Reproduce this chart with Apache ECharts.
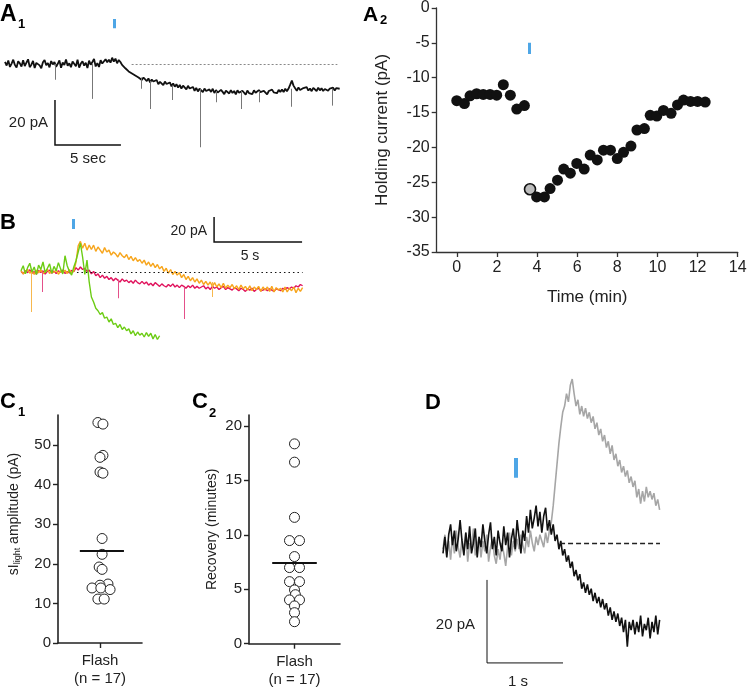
<!DOCTYPE html>
<html><head><meta charset="utf-8">
<script src="https://cdn.jsdelivr.net/npm/echarts@6/dist/echarts.min.js"></script>
<style>html,body{margin:0;padding:0;background:#fff}#c{width:747px;height:690px}</style>
</head><body><div id="c"></div>
<script>
// ================= DATA =================
// ---- A1: holding current trace (pA, relative to baseline), sampled every 0.125 s ----
const a1SampleSec = 0.125;
const a1Trace = [
  0.9,-0.7,1.6,-1.3,0.2,1.9,-0.4,-1.6,
  1.2,0.3,-1.1,1.7,-0.9,0.6,2.1,-1.4,
  -0.3,1.4,-1.8,0.5,1.1,-0.6,-1.9,0.8,
  1.8,-0.5,0.4,-1.5,1.3,-0.2,0.9,-1.2,
  0.1,1.6,-1.7,0.7,-0.4,2.0,-0.8,0.3,
  -1.4,1.1,0.5,-1.0,1.9,-1.6,0.2,1.2,
  -0.7,0.6,-1.8,1.5,-0.3,0.9,2.3,-1.1,
  0.4,-1.3,1.7,0.2,-0.6,2.1,0.8,1.9,
  0.6,2.8,1.1,2.4,0.3,1.8,0.9,-0.4,
  -0.6,-1.9,-1.2,-3.3,-2.6,-4.2,-3.4,-5.1,
  -4.6,-6.0,-5.2,-7.1,-6.0,-6.8,-7.6,-6.4,
  -8.2,-6.9,-7.8,-8.6,-7.1,-9.0,-7.9,-8.4,
  -9.4,-7.8,-8.9,-9.7,-8.2,-9.9,-8.6,-10.1,
  -9.0,-10.5,-9.3,-10.9,-9.6,-10.2,-11.3,-9.7,
  -10.9,-11.6,-10.2,-11.9,-10.6,-12.2,-11.0,-11.6,
  -12.5,-10.9,-12.0,-12.8,-11.3,-12.4,-11.0,-12.9,
  -11.6,-12.7,-13.2,-11.5,-12.4,-13.4,-11.8,-12.6,
  -13.1,-11.6,-12.9,-12.0,-13.5,-11.7,-12.8,-13.3,
  -11.9,-12.6,-13.6,-11.8,-12.9,-12.1,-13.4,-11.7,
  -12.8,-13.3,-11.6,-12.5,-13.1,-11.9,-12.6,-13.5,
  -12.0,-12.8,-11.4,-12.6,-11.8,-13.0,-11.5,-12.4,
  -11.3,-12.5,-11.0,-12.1,-10.9,-9.2,-7.4,-9.6,
  -10.8,-11.9,-10.4,-11.6,-12.2,-10.7,-11.5,-10.3,
  -11.8,-10.9,-12.1,-10.6,-11.4,-12.0,-10.5,-11.7,
  -10.8,-12.0,-11.1,-10.4,-11.9,-10.9,-11.6,-10.5,
  -11.8,-10.7,-11.4,-11.0
];
const a1SpikeTime = [3.8, 6.6, 10.3, 11.0, 12.7, 14.8, 16.0, 17.9, 19.3, 21.7, 24.8];
const a1SpikeBase = [0, 0, -6, -7.5, -9.5, -11, -12, -12, -12, -11, -11];
const a1SpikeTip  = [-7, -15.5, -11, -20, -16, -37, -17, -20, -17, -19, -18.5];
const a1FlashTime = 8.28, a1FlashPA = [15.9, 20];
const a1BaselineSpan = [9.6, 25.2];
const a1ScaleT = [3.79, 8.79], a1ScalePA = [-16, -36];

// ---- A2: holding current over time ----
const a2Time = [0,0.38,0.66,0.99,1.32,1.66,1.99,2.32,2.67,2.99,3.37,3.65,3.98,4.37,4.65,5.02,5.33,5.66,5.98,6.35,
  6.65,7.0,7.31,7.66,8.0,8.31,8.68,8.98,9.35,9.64,9.97,10.3,10.68,11.0,11.3,11.65,12.0,12.38];
const a2Current = [-13.3,-13.7,-12.6,-12.3,-12.4,-12.4,-12.5,-11.0,-12.5,-14.5,-14.0,-26.0,-27.1,-27.1,-25.9,-24.7,
  -23.1,-23.7,-22.3,-23.1,-21.1,-21.8,-20.4,-20.4,-21.6,-20.7,-19.8,-17.5,-17.3,-15.4,-15.5,-14.7,-15.1,-13.9,-13.2,-13.4,-13.4,-13.5];
const a2HighlightIndex = 11;
const a2XTicks = [0,2,4,6,8,10,12,14];
const a2FlashTime = 3.6, a2FlashPA = [-5.0, -6.6];

// ---- B: three example traces (pA), sampled every 0.125 s ----
const bSampleSec = 0.125;
const bOrange = [
  1.2,-1.6,0.4,2.1,-0.9,0.8,-2.0,1.5,
  -0.6,1.8,-1.3,0.3,2.2,-1.1,0.6,-0.4,
  1.7,-1.8,0.9,-0.5,1.4,-1.2,2.0,-0.8,
  0.6,8,21,24.5,19,23,17.5,21.5,
  18,21.5,16.5,20,17.5,15,19.5,16,
  17.5,13.5,16,14.5,12,15.5,13,11.5,
  14,10,12.5,9,11.5,8.5,10,7,
  9.5,5.5,8,4.5,7,3.5,6,2.5,
  4.5,0.5,3,-1,2,-2,0.5,-2.5,
  -0.5,-4.5,-2,-6,-3.5,-7,-4.5,-8,
  -5.5,-9,-6.5,-10,-7.5,-10.5,-8,-11.5,
  -8.5,-12,-9.5,-12.5,-9,-13,-10.5,-12.5,
  -10,-13.5,-11,-14,-10.5,-13.5,-11.5,-14.5,
  -11,-15,-12,-14,-11.5,-15.5,-12,-14.5,
  -12,-15.5,-11.5,-16,-12.5,-14.5,-13,-16,
  -12,-16,-13,-15,-12,-16.5,-13,-15.5,
  -12.5
];
const bRed = [
  0.6,-1.4,1.1,-0.5,1.8,-1.0,0.3,-1.7,
  1.2,-0.4,0.9,-1.6,0.5,1.5,-0.9,0.7,
  -1.3,1.0,-0.2,1.6,-1.2,0.4,-0.8,1.3,
  0.2,3.5,1.5,4,2,3,0.5,1.5,
  -1.5,0.5,-3,-1.5,-4.5,-2.5,-5,-3.5,
  -6,-4.5,-7,-5,-6.5,-8,-5.5,-7.5,
  -6.5,-8.5,-7,-9,-6.5,-8.5,-9.5,-7.5,
  -9.5,-8,-10.5,-9,-11,-8.5,-10,-11.5,
  -9.5,-11,-12,-10,-11.5,-9.5,-12,-10.5,
  -12.5,-10.5,-11.5,-13,-11,-12.5,-10.5,-13,
  -11.5,-13,-12,-11,-13.5,-12,-14,-11.5,
  -13,-12,-14,-12.5,-11.5,-14,-12.5,-13.5,
  -14.5,-12.5,-13.5,-15,-13,-14,-15.5,-13.5,
  -14.5,-13,-15.5,-14,-13,-15,-14.5,-13.5,
  -15,-13.5,-14.5,-15.5,-13.5,-14,-15,-13,
  -14,-12.5,-13.5,-12,-13,-11,-12,-10,
  -11
];
const bGreen = [
  1,5,-1.5,3.5,7,0,4,-2,
  5.5,2,8,-0.5,3,6.5,-1,4.5,
  1,7.5,2.5,-1.5,13,5,0.5,-2.5,
  4,9,16,23,12,-2,9.5,-8,
  -20,-24,-29,-31,-34,-32.5,-37,-36,
  -40,-37.5,-42,-41,-44.5,-42,-46,-44,
  -47,-45.5,-49.5,-47,-51,-48,-50.5,-49,
  -52,-48.5,-51.5,-49,-53.5,-50,-54,-51
];
const bSpikeTime  = [0.6, 1.2, 5.5, 9.3, 10.85];
const bSpikeBase  = [0, 0, -6, -12, -8];
const bSpikeTip   = [-32, -16, -21, -37.6, -20];
const bSpikeColor = ['#f7b84e', '#e4508a', '#e4508a', '#e4508a', '#f7b84e'];
const bFlashTime = 2.95, bFlashPA = [34.4, 42.4];
const bBaselineSpan = [3.18, 16];
const bScaleT = [10.97, 15.97], bScalePA = [44, 24];

// ---- C1 / C2: individual cells ----
const c1Values = [55.7,55.3,47.4,46.9,43.2,42.9,26.4,22.4,19.2,18.6,14.9,14.6,13.9,13.9,13.5,11.1,11.1];
const c1Jitter = [-0.05,0.07,0.07,0,0,0.07,0.05,0.05,-0.02,0.05,0.19,0,-0.19,0.02,0.24,-0.05,0.1];
const c1Mean = 23.3, c1MeanSpan = [-0.48, 0.57];
const c1Ticks = [0,10,20,30,40,50];
const c2Values = [18.35,16.67,11.6,9.47,9.47,8.0,6.99,6.99,5.7,5.7,4.94,4.5,4.02,4.02,3.47,2.85,2.02];
const c2Jitter = [0,0,0,-0.11,0.11,0,-0.11,0.11,-0.11,0.11,0,0.02,-0.11,0.11,0,0,0];
const c2Mean = 7.4, c2MeanSpan = [-0.49, 0.49];
const c2Ticks = [0,5,10,15,20];
const cCategory = 'Flash\n(n = 17)';

// ---- D: two overlaid traces (pA), sampled every 0.025 s ----
const dSampleSec = 0.025;
const dBlack = [
  -2.5,1.5,-3.5,2.0,4.5,-0.5,3.0,-2.0,1.0,5.5,
  0.5,-3.0,2.5,-1.5,4.0,-2.5,0.0,3.5,-3.5,1.5,
  -1.0,4.5,0.5,-2.5,2.0,5.0,-1.5,1.5,-3.0,3.0,
  0.0,-2.0,4.0,-0.5,2.5,-3.5,1.0,3.5,-1.5,5.5,
  1.5,-2.5,3.0,0.5,6.5,2.5,8.0,3.5,6.0,9.0,
  4.0,7.5,2.5,6.5,8.5,3.0,5.5,2.0,4.5,0.5,
  2.0,-1.5,0.5,-3.0,-1.5,-4.5,-3.0,-6.0,-4.5,-8.0,
  -6.5,-9.0,-7.5,-11.0,-9.5,-12.0,-10.0,-12.5,-11.0,-14.0,
  -12.0,-14.5,-13.0,-15.5,-13.5,-16.0,-14.5,-17.5,-15.5,-18.5,
  -16.5,-19.0,-17.0,-20.0,-18.0,-21.5,-18.5,-25.0,-19.0,-21.0,
  -18.5,-22.0,-19.0,-21.5,-17.5,-22.5,-19.5,-21.0,-18.0,-23.0,
  -19.0,-21.5,-17.5,-22.0,-18.5
];
const dGray = [
  -1.5,2.0,-3.0,0.5,-4.0,1.5,-2.5,3.0,-1.0,-3.5,
  1.0,-2.0,2.5,-4.5,0.0,-1.5,3.5,-3.0,-0.5,1.5,
  -3.5,0.5,-2.0,2.0,-4.5,-1.0,1.0,-3.0,-5.0,-1.5,
  -4.0,0.0,-2.5,-5.5,-1.0,2.5,-3.0,0.5,-2.0,1.0,
  -1.5,2.0,-0.5,-2.5,1.5,-1.0,3.0,0.0,-2.0,1.5,
  -0.5,2.0,0.5,-1.0,2.5,0.0,3.0,5.0,9.0,14.0,
  19.0,24.0,28.0,31.5,33.0,36.0,34.0,38.0,39.5,36.0,
  33.0,34.5,31.0,33.0,30.5,32.5,30.0,31.5,29.0,30.5,
  27.5,29.0,26.0,27.5,24.5,26.0,23.0,24.5,21.5,23.5,
  20.0,21.5,18.5,20.0,17.0,18.5,16.0,17.5,14.5,16.0,
  13.5,15.0,11.0,13.0,9.5,12.5,10.0,13.5,11.0,12.5,
  10.5,12.0,9.0,10.5,8.0
];
const dFlashTime = 0.96, dFlashPA = [15.7, 20.5];
const dBaselineSpan = [1.54, 2.855];
const dScaleT = [0.579, 1.579], dScalePA = [-8.9, -28.9];

// ================= CHART =================
const FONT = '"Liberation Sans", Arial, sans-serif';
const BLUE = '#4ea6e6';
const chart = echarts.init(document.getElementById('c'), null, {renderer: 'canvas'});

const toXY = (arr, dt) => arr.map((v, i) => [+(i * dt).toFixed(4), v]);
const seg = (x0, y0, x1, y1) => ({coords: [[x0, y0], [x1, y1]]});
const linesS = (gi, data, style, polyline) => ({
  type: 'lines', coordinateSystem: 'cartesian2d', xAxisIndex: gi, yAxisIndex: gi,
  polyline: !!polyline, data, lineStyle: Object.assign({opacity: 1, curveness: 0}, style), silent: true, z: 5
});
const scaleBar = (gi, ts, ps, w) => linesS(gi, [{coords: [[ts[0], ps[0]], [ts[0], ps[1]], [ts[1], ps[1]]]}], {color: '#111', width: w}, true);
const trace = (gi, arr, dt, color, width, z) => ({
  type: 'line', xAxisIndex: gi, yAxisIndex: gi, data: toXY(arr, dt), symbol: 'none',
  lineStyle: {color, width, join: 'bevel'}, silent: true, z: z || 3
});
const hiddenX = (gi, min, max) => ({gridIndex: gi, type: 'value', min, max, show: false});
const hiddenY = (gi, min, max) => ({gridIndex: gi, type: 'value', min, max, show: false});

const axisLineStyle = {color: '#333', width: 1.3};
const labelStyle = {color: '#222', fontFamily: FONT};

const txt = (text, x, y, size, opts) => ({
  type: 'text', x, y, silent: true,
  style: Object.assign({text, font: size + 'px ' + FONT, fill: '#222', align: 'left', verticalAlign: 'middle'}, opts || {})
});
const bold = (text, x, y, size) => txt(text, x, y, size, {font: 'bold ' + size + 'px ' + FONT, fill: '#000'});

const cXAxis = gi => ({gridIndex: gi, type: 'value', min: -1, max: 1,
  axisLine: {show: true, onZero: false, lineStyle: {color: '#222', width: 1.6}},
  axisTick: {show: true, length: 5, customValues: [0], lineStyle: {color: '#222', width: 1.4}},
  axisLabel: {customValues: [0], formatter: () => cCategory, fontSize: 15, lineHeight: 18, margin: 9, ...labelStyle},
  splitLine: {show: false}});

const option = {
  animation: false,
  textStyle: {fontFamily: FONT},
  grid: [
    {left: 5, top: 14.5, width: 335, height: 139.5, outerBoundsMode: 'none'},
    {left: 436.7, top: 8, width: 301, height: 244, outerBoundsMode: 'none'},
    {left: 21, top: 214.5, width: 281.6, height: 127.5, outerBoundsMode: 'none'},
    {left: 58, top: 415, width: 84, height: 228, outerBoundsMode: 'none'},
    {left: 249, top: 415, width: 91, height: 228.7, outerBoundsMode: 'none'},
    {left: 443, top: 368.7, width: 217, height: 307.1, outerBoundsMode: 'none'}
  ],
  xAxis: [
    hiddenX(0, 0, 25.4),
    {gridIndex: 1, type: 'value', min: -1, max: 14,
      axisLine: {show: true, onZero: false, lineStyle: axisLineStyle},
      axisTick: {show: true, length: 5, customValues: a2XTicks, lineStyle: axisLineStyle},
      axisLabel: {customValues: a2XTicks, fontSize: 16, margin: 8, ...labelStyle},
      splitLine: {show: false},
      name: 'Time (min)', nameLocation: 'middle', nameGap: 37,
      nameTextStyle: {fontSize: 17, ...labelStyle}},
    hiddenX(2, 0, 16),
    cXAxis(3),
    cXAxis(4),
    hiddenX(5, 0, 2.855)
  ],
  yAxis: [
    hiddenY(0, -40, 22),
    {gridIndex: 1, type: 'value', min: -35, max: 0, interval: 5,
      axisLine: {show: true, onZero: false, lineStyle: axisLineStyle},
      axisTick: {show: true, length: 5, lineStyle: axisLineStyle},
      axisLabel: {fontSize: 16, margin: 7, ...labelStyle},
      splitLine: {show: false},
      name: 'Holding current (pA)', nameLocation: 'middle', nameGap: 46, nameRotate: 90,
      nameTextStyle: {fontSize: 17, ...labelStyle}},
    hiddenY(2, -56, 46),
    {gridIndex: 3, type: 'value', min: 0, max: 57.6,
      axisLine: {show: true, onZero: false, lineStyle: {color: '#222', width: 1.6}},
      axisTick: {show: true, length: 5, customValues: c1Ticks, lineStyle: {color: '#222', width: 1.4}},
      axisLabel: {customValues: c1Ticks, fontSize: 15, margin: 7, ...labelStyle},
      splitLine: {show: false},
      name: '{a|sI}{s|light}{a| amplitude (pA)}', nameLocation: 'middle', nameGap: 36, nameRotate: 90,
      nameTextStyle: {...labelStyle, padding: [0, 0, 0, 30], rich: {
        a: {fontSize: 14, color: '#222', fontFamily: FONT, lineHeight: 16},
        s: {fontSize: 9, color: '#222', fontFamily: FONT, verticalAlign: 'bottom', lineHeight: 12, padding: [4, 0, 0, 0]}
      }}},
    {gridIndex: 4, type: 'value', min: 0, max: 21,
      axisLine: {show: true, onZero: false, lineStyle: {color: '#222', width: 1.6}},
      axisTick: {show: true, length: 5, customValues: c2Ticks, lineStyle: {color: '#222', width: 1.4}},
      axisLabel: {customValues: c2Ticks, fontSize: 15, margin: 7, ...labelStyle},
      splitLine: {show: false},
      name: 'Recovery (minutes)', nameLocation: 'middle', nameGap: 30, nameRotate: 90,
      nameTextStyle: {fontSize: 14, ...labelStyle}},
    hiddenY(5, -32, 42)
  ],
  series: [
    // ---- A1 ----
    trace(0, a1Trace, a1SampleSec, '#111', 1.8, 4),
    linesS(0, a1SpikeTime.map((t, k) => seg(t, a1SpikeBase[k], t, a1SpikeTip[k])), {color: '#777', width: 1}),
    linesS(0, [seg(a1BaselineSpan[0], 0, a1BaselineSpan[1], 0)], {color: '#888', width: 1, type: [2, 2]}),
    linesS(0, [seg(a1FlashTime, a1FlashPA[0], a1FlashTime, a1FlashPA[1])], {color: BLUE, width: 3}),
    scaleBar(0, a1ScaleT, a1ScalePA, 1.5),
    // ---- A2 ----
    {type: 'scatter', xAxisIndex: 1, yAxisIndex: 1, symbolSize: 11,
      data: a2Time.map((t, i) => ({value: [t, a2Current[i]],
        itemStyle: i === a2HighlightIndex ? {color: '#bdbdbd', borderColor: '#111', borderWidth: 1.6, opacity: 1} : {color: '#111', opacity: 1}})),
      silent: true},
    linesS(1, [seg(a2FlashTime, a2FlashPA[0], a2FlashTime, a2FlashPA[1])], {color: BLUE, width: 3}),
    // ---- B ----
    trace(2, bRed, bSampleSec, '#e0125c', 1.4, 3),
    trace(2, bOrange, bSampleSec, '#f7a51c', 1.4, 4),
    trace(2, bGreen, bSampleSec, '#6ccc14', 1.4, 5),
    linesS(2, bSpikeTime.map((t, k) => ({coords: [[t, bSpikeBase[k]], [t, bSpikeTip[k]]], lineStyle: {color: bSpikeColor[k]}})), {width: 1}),
    linesS(2, [seg(bBaselineSpan[0], 0, bBaselineSpan[1], 0)], {color: '#111', width: 1, type: [1.5, 3]}),
    linesS(2, [seg(bFlashTime, bFlashPA[0], bFlashTime, bFlashPA[1])], {color: BLUE, width: 3}),
    scaleBar(2, bScaleT, bScalePA, 1.5),
    // ---- C1 ----
    {type: 'scatter', xAxisIndex: 3, yAxisIndex: 3, symbolSize: 10,
      itemStyle: {color: '#fff', borderColor: '#222', borderWidth: 1, opacity: 1},
      data: c1Values.map((v, i) => [c1Jitter[i], v]), silent: true},
    linesS(3, [seg(c1MeanSpan[0], c1Mean, c1MeanSpan[1], c1Mean)], {color: '#111', width: 2}),
    // ---- C2 ----
    {type: 'scatter', xAxisIndex: 4, yAxisIndex: 4, symbolSize: 10,
      itemStyle: {color: '#fff', borderColor: '#222', borderWidth: 1, opacity: 1},
      data: c2Values.map((v, i) => [c2Jitter[i], v]), silent: true},
    linesS(4, [seg(c2MeanSpan[0], c2Mean, c2MeanSpan[1], c2Mean)], {color: '#111', width: 2}),
    // ---- D ----
    trace(5, dGray, dSampleSec, '#a6a6a6', 1.6, 3),
    trace(5, dBlack, dSampleSec, '#111', 1.6, 4),
    linesS(5, [seg(dBaselineSpan[0], 0, dBaselineSpan[1], 0)], {color: '#222', width: 1.3, type: [5, 3]}),
    linesS(5, [seg(dFlashTime, dFlashPA[0], dFlashTime, dFlashPA[1])], {color: BLUE, width: 4}),
    scaleBar(5, dScaleT, dScalePA, 1)
  ],
  graphic: [
    bold('A', 0, 15, 23), bold('1', 18, 24, 13),
    bold('A', 363, 15, 21), bold('2', 380, 20, 13),
    bold('B', 0, 222.5, 22),
    bold('C', 0, 401.5, 22), bold('1', 18, 412, 13),
    bold('C', 192, 401.5, 22), bold('2', 209, 413, 13),
    bold('D', 425, 402.5, 22),
    txt('20 pA', 48, 123, 15, {align: 'right'}),
    txt('5 sec', 88, 159, 15, {align: 'center'}),
    txt('20 pA', 207, 231, 14, {align: 'right'}),
    txt('5 s', 250, 256, 14, {align: 'center'}),
    txt('20 pA', 475, 625, 15, {align: 'right'}),
    txt('1 s', 518, 682, 15, {align: 'center'})
  ]
};
chart.setOption(option);
</script>
</body></html>
